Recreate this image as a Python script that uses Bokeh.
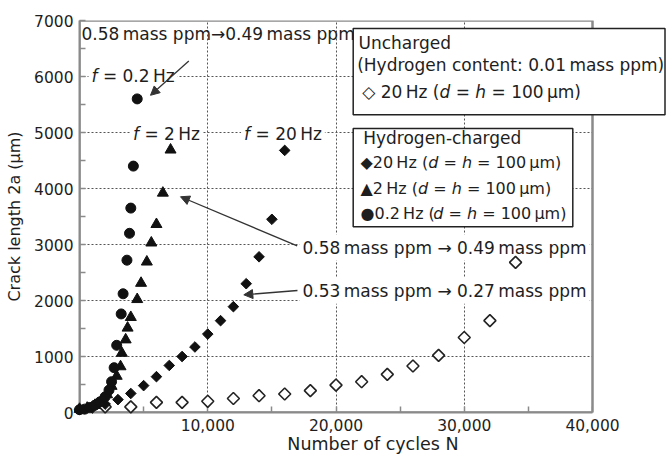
import math
from bokeh.plotting import figure
from bokeh.models import (Range1d, FixedTicker, NumeralTickFormatter, Label,
                          Arrow, NormalHead, BoxAnnotation)
from bokeh.embed import file_html
from bokeh.resources import INLINE

# ---------------- data ----------------
cycles_uncharged = [2000, 4000, 6000, 8000, 10000, 12000, 14000, 16000, 18000,
                    20000, 22000, 24000, 26000, 28000, 30000, 32000, 34000]
crack_uncharged = [100, 100, 180, 180, 200, 250, 300, 330, 390,
                   490, 550, 680, 830, 1020, 1340, 1640, 2680]

cycles_20hz = [0, 1000, 2000, 3000, 4000, 5000, 6000, 7000, 8000, 9000,
               10000, 11000, 12000, 13000, 14000, 15000, 16000]
crack_20hz = [50, 80, 150, 230, 340, 480, 640, 840, 1000, 1170,
              1400, 1640, 1890, 2300, 2780, 3450, 4680]

cycles_2hz = [0, 600, 1200, 1700, 2150, 2500, 2900, 3200, 3300, 3600, 3750,
              4000, 4500, 4800, 5250, 5600, 6000, 6500, 7100]
crack_2hz = [60, 80, 130, 210, 320, 470, 650, 820, 1060, 1300, 1510,
             1700, 2020, 2310, 2690, 3030, 3360, 3920, 4690]

cycles_02hz = [0, 400, 800, 1200, 1600, 2000, 2300, 2500, 2700, 2900, 3250,
               3400, 3700, 3900, 4000, 4200, 4500]
crack_02hz = [50, 60, 90, 130, 190, 280, 400, 550, 800, 1200, 1760,
              2120, 2720, 3200, 3650, 4400, 5600]

x_ticks = [10000, 20000, 30000, 40000]
x_minor = [5000, 15000, 25000, 35000]
y_ticks = [0, 1000, 2000, 3000, 4000, 5000, 6000, 7000]
y_minor = [500, 1500, 2500, 3500, 4500, 5500, 6500]
x_max, y_max = 40000, 7000

# ---------------- layout (canvas pixels) ----------------
W, H = 666, 456
FL, FR, FT, FB = 79, 592, 20, 413        # drawn plot box edges
X0, Y0 = 0, 0
X_END = x_max * (W - FL) / (FR - FL)     # frame reaches the canvas edge

FONT = "DejaVu Sans"
TXT = "#1e1e1e"
GRAY = "#8a8a8a"


def xd(px):
    return X0 + (px - FL) / (FR - FL) * (x_max - X0)


def yd(py):
    return Y0 + (FB - py) / (FB - FT) * (y_max - Y0)


EM = {' ': 0.318, '\u2009': 0.2, '.': 0.318, ',': 0.318, ':': 0.337,
      '(': 0.390, ')': 0.390, '=': 0.838, '\u2192': 0.838, '-': 0.361,
      'a': 0.613, 'b': 0.635, 'c': 0.550, 'd': 0.635, 'e': 0.615, 'f': 0.352,
      'g': 0.635, 'h': 0.634, 'i': 0.278, 'k': 0.579, 'l': 0.278, 'm': 0.974,
      'n': 0.634, 'o': 0.612, 'p': 0.635, 'r': 0.411, 's': 0.521, 't': 0.392,
      'u': 0.634, 'y': 0.592, 'z': 0.525, 'C': 0.698, 'H': 0.752, 'N': 0.748,
      'U': 0.732, '\u00b5': 0.636, '\u25c7': 0.77, '\u25c6': 0.77,
      '\u25b2': 0.77, '\u25cf': 0.77}


def tw(s, size):
    return sum(EM.get(c, 0.636) for c in s) * size


p = figure(width=W, height=H, x_range=Range1d(X0, X_END), y_range=Range1d(Y0, y_max),
           output_backend="svg", toolbar_location=None,
           min_border_left=FL, min_border_right=0,
           min_border_top=FT, min_border_bottom=H - FB)
p.background_fill_color = "white"
p.border_fill_color = "white"
p.outline_line_color = None

p.xaxis.ticker = FixedTicker(ticks=x_ticks, minor_ticks=x_minor)
p.xaxis.formatter = NumeralTickFormatter(format="0,0")
p.xaxis.bounds = (X0, x_max)
p.yaxis.ticker = FixedTicker(ticks=y_ticks, minor_ticks=y_minor)
for ax in (p.xaxis[0], p.yaxis[0]):
    ax.axis_line_color = GRAY
    ax.axis_line_width = 2
    ax.major_tick_line_color = GRAY
    ax.minor_tick_line_color = GRAY
    ax.major_tick_line_width = 1.5
    ax.minor_tick_line_width = 1.5
    ax.major_tick_in = 6
    ax.major_tick_out = 0
    ax.minor_tick_in = 6
    ax.minor_tick_out = 0
    ax.major_label_text_font = FONT
    ax.major_label_text_font_size = "15.5px"
    ax.major_label_text_color = TXT
    ax.axis_label_text_font = FONT
    ax.axis_label_text_font_style = "normal"
    ax.axis_label_text_color = TXT
p.xaxis.major_label_standoff = 6
p.yaxis.major_label_standoff = 6
p.xaxis.axis_label = "Number of cycles N"
p.xaxis.axis_label_text_font_size = "17.5px"
p.xaxis.axis_label_standoff = 0
p.yaxis.axis_label = "Crack length 2a (\u00b5m)"
p.yaxis.axis_label_text_font_size = "16px"
p.yaxis.axis_label_standoff = 7

p.xgrid.ticker = FixedTicker(ticks=x_ticks)
p.ygrid.ticker = FixedTicker(ticks=y_ticks)
p.grid.grid_line_color = "#555555"
p.grid.grid_line_dash = "2 2"
p.grid.grid_line_width = 1

# blank strip right of the 40,000 edge, then the plot box outline
p.add_layout(BoxAnnotation(left=x_max, fill_color="white", fill_alpha=1.0,
                           line_color=None))
p.add_layout(BoxAnnotation(left=X0, right=x_max, bottom=Y0, top=y_max,
                           fill_alpha=0.0, line_color=GRAY, line_width=2.5,
                           line_alpha=1.0))

# ---------------- series (drawn above the note backgrounds) ----------------
p.scatter(cycles_uncharged, crack_uncharged, marker="square", angle=math.pi / 4,
          size=8.5, fill_color="white", line_color="#222222", line_width=1.6,
          level="overlay")
p.scatter(cycles_20hz, crack_20hz, marker="square", angle=math.pi / 4,
          size=7.5, fill_color="#111111", line_color="#111111", level="overlay")
p.scatter(cycles_2hz, crack_2hz, marker="triangle", size=11,
          fill_color="#111111", line_color="#111111", level="overlay")
p.scatter(cycles_02hz, crack_02hz, marker="circle", size=10,
          fill_color="#111111", line_color="#111111", level="overlay")


# ---------------- annotations ----------------
def seg(px, py, parts, size, bg=None, center=False):
    total = sum(tw(t, size) for t, _ in parts)
    off = -total / 2 if center else 0.0
    for txt, style in parts:
        lead = txt[:len(txt) - len(txt.lstrip())]
        body = txt.strip()
        lab = Label(x=xd(px), y=yd(py), x_offset=off + tw(lead, size), text=body,
                    text_font=FONT, text_font_size=f"{size}px",
                    text_font_style=style, text_color=TXT,
                    text_baseline="middle", text_align="left")
        if bg:
            lab.background_fill_color = bg
            lab.padding = 3
        p.add_layout(lab)
        off += tw(txt, size)


def arrow(px0, py0, px1, py1):
    p.add_layout(Arrow(end=NormalHead(size=9, fill_color="#333333", line_color="#333333"),
                       x_start=xd(px0), y_start=yd(py0), x_end=xd(px1), y_end=yd(py1),
                       line_color="#333333", line_width=1.3))


N = "normal"
I = "italic"
S = 17

# legend boxes
for l, r, t, b in [(352.7, 664.5, 28, 114.5), (352.7, 572.3, 128.3, 226.7)]:
    p.add_layout(BoxAnnotation(left=xd(l), right=xd(r), top=yd(t), bottom=yd(b),
                               fill_color="white", fill_alpha=1.0,
                               line_color="#222222", line_width=1.5, line_alpha=1.0))

seg(358, 42.7, [("Uncharged", N)], S)
seg(356.7, 65, [("(Hydrogen content: 0.01\u2009mass ppm)", N)], S)
seg(361.7, 91.7, [("\u25c7 20\u2009Hz (", N), ("d", I), (" = ", N), ("h", I),
                  (" = 100\u2009\u00b5m)", N)], S)
seg(362.7, 138.3, [("Hydrogen-charged", N)], S)
seg(360, 162.7, [("\u25c620\u2009Hz (", N), ("d", I), (" = ", N), ("h", I),
                 (" = 100\u2009\u00b5m)", N)], 16)
seg(360, 188, [("\u25b22\u2009Hz (", N), ("d", I), (" = ", N), ("h", I),
               (" = 100\u2009\u00b5m)", N)], 16)
seg(360, 213, [("\u25cf0.2\u2009Hz (", N), ("d", I), (" = ", N), ("h", I),
               (" = 100\u2009\u00b5m)", N)], 16)

# text notes
seg(81, 34, [("0.58\u2009mass ppm\u21920.49\u2009mass ppm", N)], S)
seg(88, 76, [("f", I), (" = 0.2\u2009Hz", N)], S, bg="white")
seg(163, 134, [("f", I), (" = 2\u2009Hz", N)], S, bg="white", center=True)
seg(279.5, 134, [("f", I), (" = 20\u2009Hz", N)], S, bg="white", center=True)
seg(299, 247.7, [("0.58\u2009mass ppm \u2192 0.49\u2009mass ppm", N)], S, bg="white")
seg(299, 291, [("0.53\u2009mass ppm \u2192 0.27\u2009mass ppm", N)], S, bg="white")

arrow(188.3, 60.7, 150, 95)
arrow(296.7, 246, 180, 196.7)
arrow(297, 290.7, 243.3, 295)

html = file_html(p, INLINE, title="Crack length vs cycles")
with open("out.html", "w") as f:
    f.write(html)
